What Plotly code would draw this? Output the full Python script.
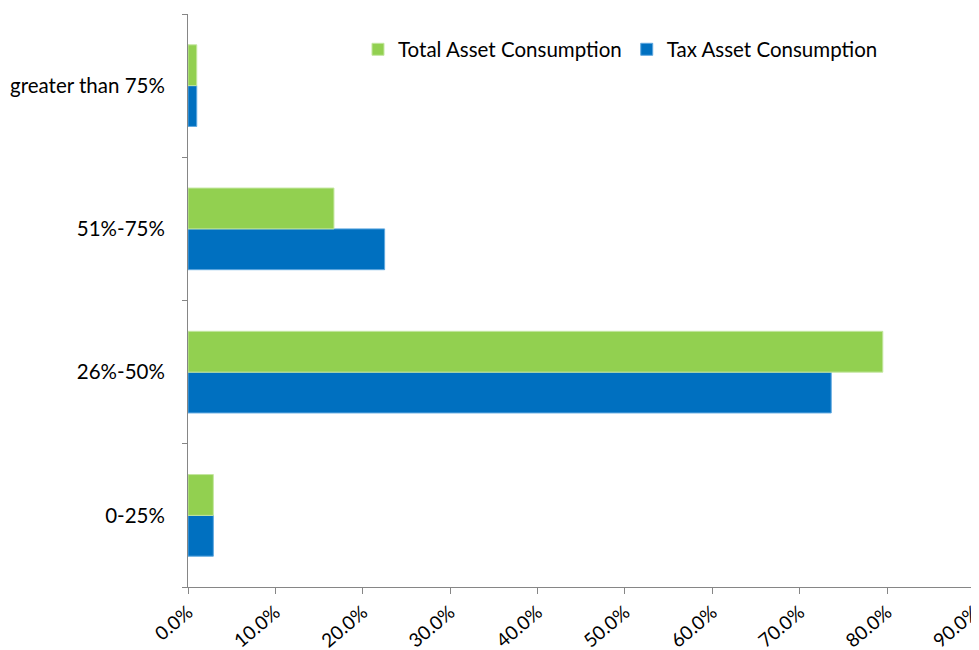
import plotly.graph_objects as go

categories = ["0-25%", "26%-50%", "51%-75%", "greater than 75%"]
total_asset = [2.9, 79.5, 16.7, 1.0]
tax_asset = [2.9, 73.6, 22.5, 1.0]
x_ticks = [0, 10, 20, 30, 40, 50, 60, 70, 80, 90]
x_tick_labels = [f"{v:.1f}%" for v in x_ticks]

font_family = "Lato, Open Sans, sans-serif"

fig = go.Figure()
fig.add_trace(go.Bar(
    y=categories, x=tax_asset, orientation="h", name="Tax Asset Consumption",
    marker=dict(color="#0070C0", line=dict(color="#5FA8E0", width=1)), legendrank=2,
))
fig.add_trace(go.Bar(
    y=categories, x=total_asset, orientation="h", name="Total Asset Consumption",
    marker=dict(color="#92D050", line=dict(color="#C4E6A0", width=1)), legendrank=1,
))

# page body has an 8px margin, so the figure is sized/margined to compensate
fig.update_layout(
    width=971, height=642,
    margin=dict(l=180, r=4, t=6, b=63),
    plot_bgcolor="white", paper_bgcolor="white",
    barmode="group", bargap=0.43, bargroupgap=0,
    font=dict(family=font_family, size=20.5, color="#000000"),
    legend=dict(orientation="h", x=0.216, xanchor="left", y=0.973, yanchor="top",
                font=dict(size=20.5), itemwidth=30, bgcolor="rgba(0,0,0,0)",
                traceorder="normal"),
    showlegend=True,
)
fig.update_xaxes(
    range=[0, 90.05], tickvals=x_ticks, ticktext=x_tick_labels, tickangle=-40,
    tickfont=dict(size=19),
    showline=True, linecolor="#868686", linewidth=1, showgrid=False, zeroline=False,
    ticks="outside", ticklen=6, tickcolor="#868686", automargin=False,
    ticklabeloverflow="allow",
)
fig.update_yaxes(
    categoryorder="array", categoryarray=categories,
    showline=True, linecolor="#868686", linewidth=1, showgrid=False,
    ticks="outside", ticklen=5, tickcolor="#868686", tickson="boundaries",
    ticklabelstandoff=18, automargin=False,
)

fig.write_html("out.html")
